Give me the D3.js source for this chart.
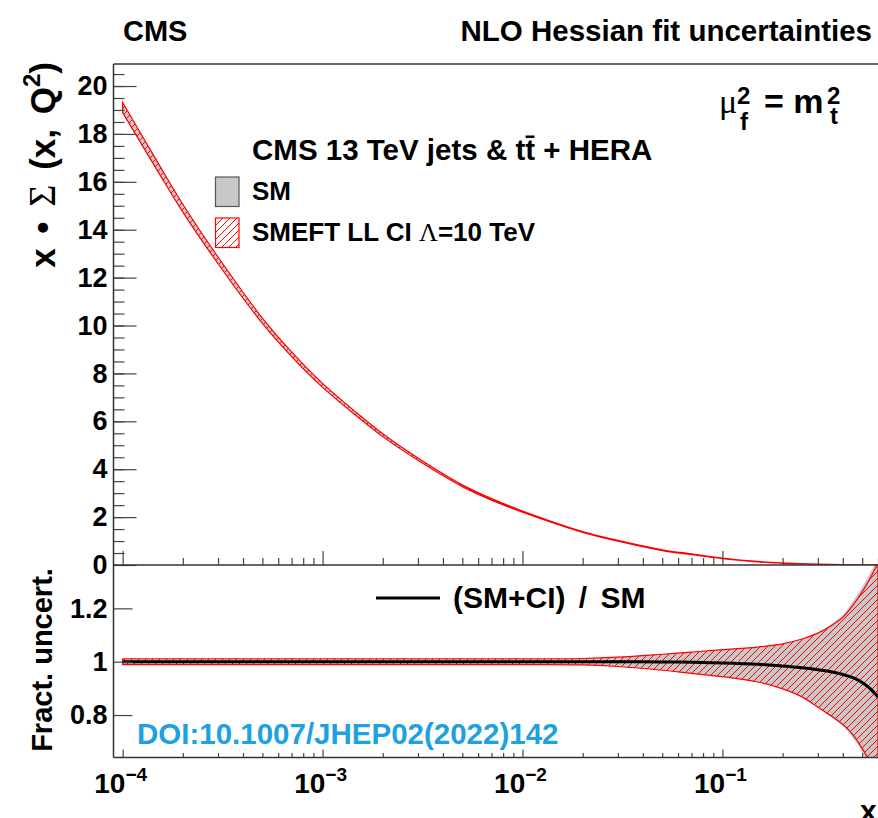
<!DOCTYPE html>
<html>
<head>
<meta charset="utf-8">
<script src="https://cdn.jsdelivr.net/npm/d3@7"></script>
<style>
  body { margin: 0; background: #fff; }
  svg { display: block; font-family: "Liberation Sans", Arial, sans-serif; font-weight: bold; }
  .greek { font-family: "Liberation Serif", "DejaVu Serif", serif; font-weight: normal; }
</style>
</head>
<body>
<svg width="878" height="818"></svg>
<script>
'use strict';

// x values of the curves
var xGrid = [1e-4, 1.5e-4, 2e-4, 3e-4, 5e-4, 7e-4, 1e-3, 1.5e-3, 2e-3, 3e-3, 5e-3, 7e-3,
             0.01, 0.02, 0.03, 0.05, 0.07, 0.1, 0.15, 0.2, 0.25, 0.3, 0.35, 0.4, 0.45, 0.5, 0.55, 0.6];
// x * Sigma(x, Q^2) for the SM fit
var xSigma = [19.1, 16.62, 14.9, 12.72, 10.2, 8.8, 7.5, 6.25, 5.42, 4.42, 3.31, 2.74,
              2.23, 1.38, 1.01, 0.62, 0.45, 0.28, 0.14, 0.08, 0.05, 0.03, 0.02, 0.015, 0.01, 0.006, 0.003, 0.001];
// (SM+CI) / SM
var ratio = [1, 1, 1, 1, 1, 1, 1, 1, 1, 1, 1, 1,
             1, 1, 1, 0.999, 0.998, 0.995, 0.99, 0.984, 0.977, 0.97, 0.962, 0.952, 0.94, 0.922, 0.898, 0.868];
// SM fractional band
var smUp = [1.011, 1.011, 1.011, 1.011, 1.011, 1.011, 1.011, 1.011, 1.011, 1.011, 1.011, 1.011,
            1.011, 1.012, 1.017, 1.028, 1.036, 1.045, 1.055, 1.067, 1.085, 1.108, 1.14, 1.176, 1.228, 1.28, 1.335, 1.39];
var smDn = [0.989, 0.989, 0.989, 0.989, 0.989, 0.989, 0.989, 0.989, 0.989, 0.989, 0.989, 0.989,
            0.989, 0.988, 0.982, 0.968, 0.956, 0.944, 0.924, 0.898, 0.868, 0.828, 0.792, 0.758, 0.714, 0.66, 0.6, 0.54];
// SMEFT (LL CI, Lambda = 10 TeV) fractional band
var smeftUp = [1.011, 1.011, 1.011, 1.011, 1.011, 1.011, 1.011, 1.011, 1.011, 1.011, 1.011, 1.011,
               1.011, 1.012, 1.017, 1.028, 1.036, 1.045, 1.055, 1.067, 1.085, 1.107, 1.135, 1.166, 1.212, 1.262, 1.315, 1.37];
var smeftDn = [0.989, 0.989, 0.989, 0.989, 0.989, 0.989, 0.989, 0.989, 0.989, 0.989, 0.989, 0.989,
               0.989, 0.988, 0.982, 0.968, 0.956, 0.944, 0.924, 0.898, 0.868, 0.83, 0.797, 0.765, 0.726, 0.675, 0.62, 0.56];

// tick labels
var yTicksTop = [0, 2, 4, 6, 8, 10, 12, 14, 16, 18, 20];
var yTicksBottom = [0.8, 1, 1.2];
var xTickExps = [-4, -3, -2, -1];

// layout
var left = 113.5, right = 878;
var topY = 64, midY = 565, botY = 757.5;
var svg = d3.select('svg');

var x = d3.scaleLog().domain([9e-5, 0.6]).range([left, right]);
var yTop = d3.scaleLinear().domain([0, 20.92]).range([midY, topY]);
var yBot = d3.scaleLinear().domain([0.6408, 1.3626]).range([botY, midY]);

var defs = svg.append('defs');
var hatch = defs.append('pattern')
  .attr('id', 'hatch')
  .attr('patternUnits', 'userSpaceOnUse')
  .attr('width', 7).attr('height', 7);
hatch.append('path')
  .attr('d', 'M-1,1 L1,-1 M0,7 L7,0 M6,8 L8,6')
  .attr('stroke', '#ff0000').attr('stroke-width', 1);
defs.append('clipPath').attr('id', 'clipTop').append('rect')
  .attr('x', left).attr('y', topY).attr('width', right - left).attr('height', midY - topY);
defs.append('clipPath').attr('id', 'clipBot').append('rect')
  .attr('x', left).attr('y', midY).attr('width', right - left).attr('height', botY - midY);

var smooth = d3.curveCatmullRom.alpha(0.5);

function band(yS, base, lo, hi) {
  return d3.area()
    .x(function(d, i) { return x(xGrid[i]); })
    .y0(function(d, i) { return yS(base(i) * lo[i]); })
    .y1(function(d, i) { return yS(base(i) * hi[i]); })
    .curve(smooth)(xGrid);
}

// upper panel: x*Sigma with bands
var gTop = svg.append('g').attr('clip-path', 'url(#clipTop)');
var sig = function(i) { return xSigma[i]; };
gTop.append('path').attr('d', band(yTop, sig, smDn, smUp)).attr('fill', '#c8c8c8');
gTop.append('path').attr('d', band(yTop, sig, smeftDn, smeftUp))
  .attr('fill', 'url(#hatch)').attr('stroke', '#ff0000').attr('stroke-width', 1.2);

// lower panel: fractional uncertainties
var gBot = svg.append('g').attr('clip-path', 'url(#clipBot)');
var one = function() { return 1; };
gBot.append('path').attr('d', band(yBot, one, smDn, smUp)).attr('fill', '#c8c8c8');
gBot.append('path').attr('d', band(yBot, one, smeftDn, smeftUp))
  .attr('fill', 'url(#hatch)').attr('stroke', '#ff0000').attr('stroke-width', 1.2);
gBot.append('path')
  .attr('d', d3.line()
    .x(function(d, i) { return x(xGrid[i]); })
    .y(function(d) { return yBot(d); })
    .curve(smooth)(ratio))
  .attr('fill', 'none').attr('stroke', '#000').attr('stroke-width', 3);

// axes
var allX = x.ticks();
var majorX = allX.filter(function(d) { return Math.abs(Math.log10(d) - Math.round(Math.log10(d))) < 1e-6; });
var minorX = allX.filter(function(d) { return majorX.indexOf(d) < 0 && d > 9.5e-5; });

function xAxis(yPos, major, minor) {
  svg.append('g').attr('transform', 'translate(0,' + yPos + ')')
    .call(d3.axisBottom(x).tickValues(minorX).tickSize(-minor).tickFormat(''));
  svg.append('g').attr('transform', 'translate(0,' + yPos + ')')
    .call(d3.axisBottom(x).tickValues(majorX).tickSize(-major).tickFormat(''));
}
xAxis(midY, 14, 7);
xAxis(botY, 8, 4.5);

svg.append('g').attr('transform', 'translate(' + left + ',0)')
  .call(d3.axisLeft(yTop).tickValues(d3.range(0.5, 20.9, 0.5)).tickSize(-11).tickFormat(''));
svg.append('g').attr('class', 'yaxis').attr('transform', 'translate(' + left + ',0)')
  .call(d3.axisLeft(yTop).tickValues(yTicksTop).tickSize(-23).tickPadding(6));
svg.append('g').attr('class', 'yaxis').attr('transform', 'translate(' + left + ',0)')
  .call(d3.axisLeft(yBot).tickValues(yTicksBottom).tickSize(-19).tickPadding(6)
    .tickFormat(function(d) { return String(d); }));

svg.selectAll('.domain').remove();
svg.selectAll('.tick line').attr('stroke', '#444').attr('stroke-width', 1.2);
svg.selectAll('.yaxis text')
  .attr('font-family', '"Liberation Sans", Arial, sans-serif')
  .attr('font-weight', 'bold').attr('font-size', 27).attr('fill', '#000');

// x tick labels 10^n
xTickExps.forEach(function(e) {
  var t = svg.append('text').attr('x', x(Math.pow(10, e)) - 2).attr('y', 793)
    .attr('text-anchor', 'middle').attr('font-size', 28);
  t.append('tspan').text('10');
  t.append('tspan').attr('dy', -12).attr('font-size', 19).text('\u2212' + (-e));
});

// frame
var frame = svg.append('g').attr('stroke', '#333').attr('stroke-width', 1.5);
frame.append('line').attr('x1', left).attr('x2', left).attr('y1', topY).attr('y2', botY);
[topY, midY, botY].forEach(function(yy) {
  frame.append('line').attr('x1', left).attr('x2', right + 2).attr('y1', yy).attr('y2', yy);
});

// header texts
svg.append('text').attr('x', 123).attr('y', 41).attr('font-size', 29).text('CMS');
svg.append('text').attr('x', 872).attr('y', 41).attr('font-size', 29.5)
  .attr('text-anchor', 'end').text('NLO Hessian fit uncertainties');

// y titles
var yt = svg.append('text').attr('transform', 'translate(55,62) rotate(-90)')
  .attr('text-anchor', 'end').attr('font-size', 35).attr('word-spacing', 5);
yt.append('tspan').text('x \u2022 ');
yt.append('tspan').attr('class', 'greek').attr('font-size', 38).text('\u03a3');
yt.append('tspan').text(' (x, Q');
yt.append('tspan').attr('dy', -15).attr('font-size', 24).text('2');
yt.append('tspan').attr('dy', 15).text(')');

svg.append('text').attr('transform', 'translate(52,660) rotate(-90)')
  .attr('text-anchor', 'middle').attr('font-size', 29).text('Fract. uncert.');

svg.append('text').attr('x', 860).attr('y', 821).attr('font-size', 30).text('x');

// mu_f^2 = m_t^2
svg.append('text').attr('x', 719).attr('y', 113).attr('class', 'greek').attr('font-size', 34).text('\u03bc');
svg.append('text').attr('x', 737).attr('y', 104).attr('font-size', 24).text('2');
svg.append('text').attr('x', 740).attr('y', 130).attr('font-size', 24).text('f');
svg.append('text').attr('x', 764).attr('y', 113).attr('font-size', 34).text('= m');
svg.append('text').attr('x', 827).attr('y', 104).attr('font-size', 24).text('2');
svg.append('text').attr('x', 830).attr('y', 124).attr('font-size', 24).text('t');

// legend
svg.append('text').attr('x', 252).attr('y', 160).attr('font-size', 29.5)
  .text('CMS 13 TeV jets & tt\u0304 + HERA');
svg.append('rect').attr('x', 215.5).attr('y', 177).attr('width', 23.5).attr('height', 29.5)
  .attr('fill', '#c8c8c8').attr('stroke', '#555').attr('stroke-width', 1.2);
svg.append('text').attr('x', 252).attr('y', 200).attr('font-size', 26).text('SM');
svg.append('rect').attr('x', 215.5).attr('y', 218).attr('width', 23.5).attr('height', 29.5)
  .attr('fill', 'url(#hatch)').attr('stroke', '#ff0000').attr('stroke-width', 1.2);
var lt = svg.append('text').attr('x', 252).attr('y', 241).attr('font-size', 26);
lt.append('tspan').text('SMEFT LL CI ');
lt.append('tspan').attr('class', 'greek').text('\u039b');
lt.append('tspan').text('=10 TeV');

// lower legend
svg.append('line').attr('x1', 376).attr('x2', 440).attr('y1', 598).attr('y2', 598)
  .attr('stroke', '#000').attr('stroke-width', 3);
svg.append('text').attr('x', 453).attr('y', 608).attr('font-size', 30).attr('word-spacing', 5)
  .text('(SM+CI) / SM');

// DOI
svg.append('text').attr('x', 137).attr('y', 744).attr('font-size', 29.5)
  .attr('fill', '#1da1e0').text('DOI:10.1007/JHEP02(2022)142');
</script>
</body>
</html>
